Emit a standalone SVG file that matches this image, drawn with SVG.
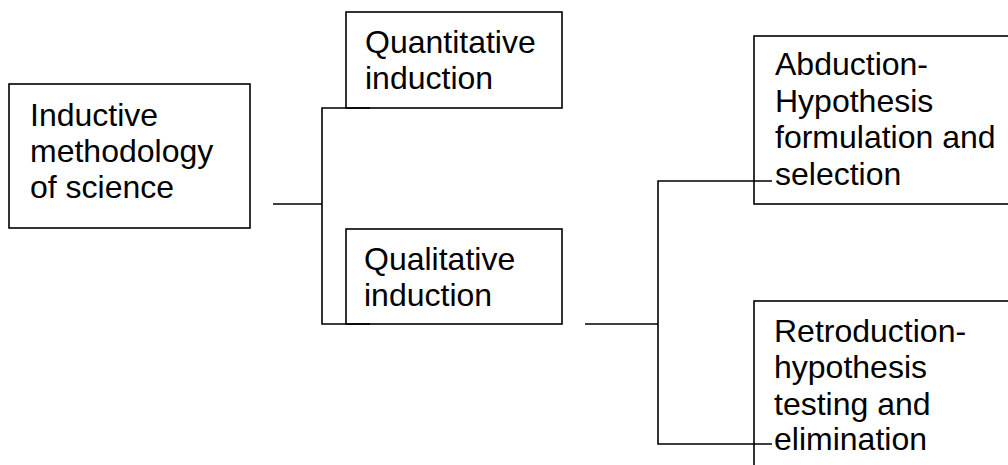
<svg xmlns="http://www.w3.org/2000/svg" width="1008" height="465" viewBox="0 0 1008 465">
  <style>
    .box { fill: #fff; stroke: #000; stroke-width: 1.6; }
    .lbl { font-family: "Liberation Sans", Arial, sans-serif; font-size: 32px; fill: #000; }
    .wire { fill: none; stroke: #000; stroke-width: 1.6; }
  </style>
  <rect width="1008" height="465" fill="#fff"/>

  <g id="node-inductive">
    <rect class="box" x="9" y="84" width="241" height="144"/>
    <text class="lbl" x="30" y="126">Inductive</text>
    <text class="lbl" x="30" y="162">methodology</text>
    <text class="lbl" x="30" y="198">of science</text>
  </g>

  <g id="node-quantitative">
    <rect class="box" x="346" y="12" width="216" height="96"/>
    <text class="lbl" x="365" y="53">Quantitative</text>
    <text class="lbl" x="365" y="89">induction</text>
  </g>

  <g id="node-qualitative">
    <rect class="box" x="346" y="229" width="216" height="95"/>
    <text class="lbl" x="364" y="270">Qualitative</text>
    <text class="lbl" x="364" y="306">induction</text>
  </g>

  <g id="node-abduction">
    <rect class="box" x="754" y="36" width="270" height="168"/>
    <text class="lbl" x="775" y="75">Abduction-</text>
    <text class="lbl" x="775" y="112">Hypothesis</text>
    <text class="lbl" x="775" y="148">formulation and</text>
    <text class="lbl" x="775" y="185">selection</text>
  </g>

  <g id="node-retroduction">
    <rect class="box" x="754" y="301" width="270" height="180"/>
    <text class="lbl" x="774" y="342">Retroduction-</text>
    <text class="lbl" x="774" y="378">hypothesis</text>
    <text class="lbl" x="774" y="415">testing and</text>
    <text class="lbl" x="774" y="450">elimination</text>
  </g>

  <g id="connectors">
    <!-- first branch: inductive methodology to the two inductions -->
    <path class="wire" d="M273 204 H322"/>
    <path class="wire" d="M370 108 H322 V324 H370"/>
    <!-- second branch: qualitative induction to abduction / retroduction -->
    <path class="wire" d="M585 324 H658"/>
    <path class="wire" d="M772 181 H658 V444 H772"/>
  </g>
</svg>
